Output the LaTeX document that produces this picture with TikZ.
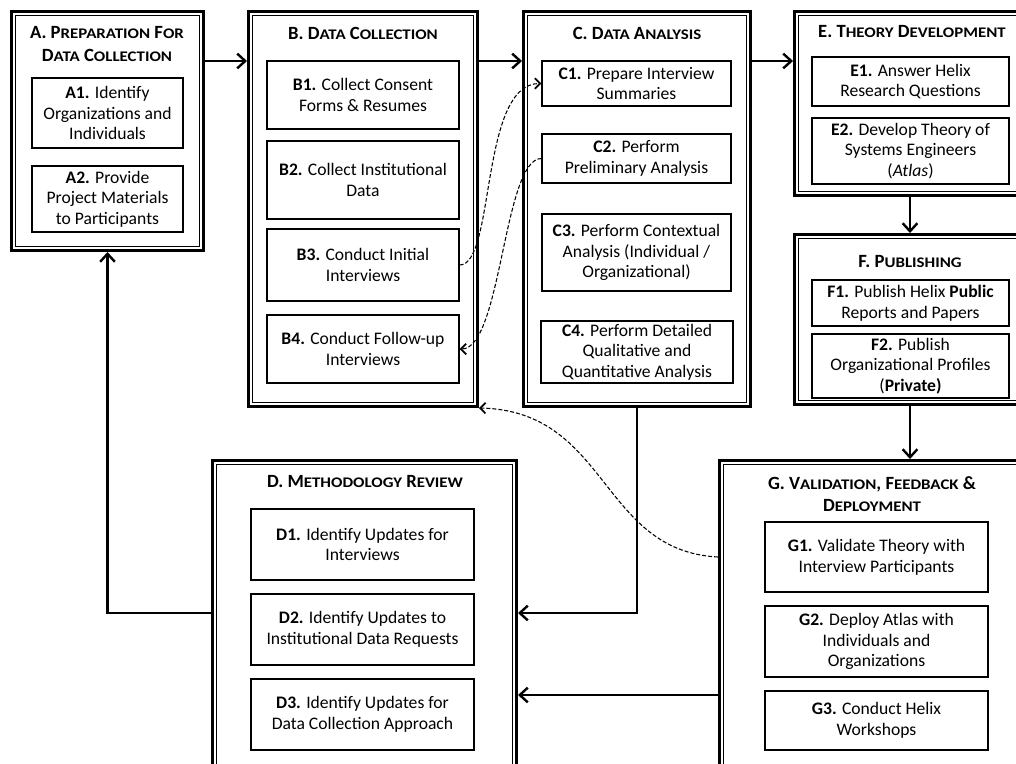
\documentclass[tikz,border=0pt]{standalone}
\usepackage{fontspec}
\setmainfont{Carlito}
\usetikzlibrary{positioning, fit, calc, arrows.meta}

% small capitals by hand: first letter, rest upper case, smaller and wider
\newcommand{\capsw}[2]{#1{\fontsize{11}{13}\selectfont\addfontfeatures{FakeStretch=1.15}\MakeUppercase{#2}}}

\begin{document}
\begin{tikzpicture}[x=0.75pt, y=-0.75pt,
        stage/.style={draw, line width=2.6pt, inner sep=0pt},
        task/.style={draw, line width=0.9pt, inner sep=0pt, align=center, font=\fontsize{13.2}{15.5}\selectfont},
        boxsize/.style 2 args={minimum width={(#1)*0.75pt}, minimum height={(#2)*0.75pt}},
        title/.style={align=center, font=\bfseries\fontsize{14}{17}\selectfont},
        flow/.style={line width=2pt, -{Straight Barb[length=6pt, width=11pt, line width=1.8pt]}},
        link/.style={line width=0.8pt, dash pattern=on 3pt off 1.5pt, -{Straight Barb[length=4pt, width=8pt, line width=1.3pt]}}]

        \useasboundingbox (0,0) rectangle (1016,763);
        \clip (0,0) rectangle (1016,763);

        \node[stage, fit={(11.75,11.75)(203.25,250.25)}] (A) {};
        \node[stage, fit={(248.75,11.75)(477.25,406.25)}] (B) {};
        \node[stage, fit={(523.75,11.75)(750.25,406.25)}] (C) {};
        \node[stage, fit={(212.75,460.75)(516.25,790)}] (D) {};
        \node[stage, fit={(794.75,11.75)(1040,195.25)}] (E) {};
        \node[stage, fit={(794.75,234.75)(1040,404.25)}] (F) {};
        \node[stage, fit={(719.75,460.75)(1040,790)}] (G) {};
        \foreach \s in {A,B,C,D,E,F,G}
            \draw[line width=0.7pt] ([shift={(5.5,5.5)}]\s.north west) rectangle ([shift={(-5.5,-5.5)}]\s.south east);

        \node[title] (Atitle) at (107,44) {A. \capsw{P}{reparation} \capsw{F}{or}\\\capsw{D}{ata} \capsw{C}{ollection}};
        \node[title] (Btitle) at (363,33) {B. \capsw{D}{ata} \capsw{C}{ollection}};
        \node[title] (Ctitle) at (637,33) {C. \capsw{D}{ata} \capsw{A}{nalysis}};
        \node[title] (Etitle) at (912,32) {E. \capsw{T}{heory} \capsw{D}{evelopment}};
        \node[title] (Ftitle) at (910,262) {F. \capsw{P}{ublishing}};
        \node[title] (Dtitle) at (365,482) {D. \capsw{M}{ethodology} \capsw{R}{eview}};
        \node[title] (Gtitle) at (872,494) {G. \capsw{V}{alidation}, \capsw{F}{eedback} \&\\\capsw{D}{eployment}};

        \node[task, boxsize={151}{70}] (A1) at (107.5,113) {\textbf{A1.} Identify\\Organizations and\\Individuals};
        \node[task, boxsize={151}{66}] (A2) at (107.5,199) {\textbf{A2.} Provide\\Project Materials\\to Participants};

        \node[task, boxsize={192}{68}] (B1) at (363,95) {\textbf{B1.} Collect Consent\\Forms \& Resumes};
        \node[task, boxsize={192}{78}] (B2) at (363,180) {\textbf{B2.} Collect Institutional\\Data};
        \node[task, boxsize={192}{72}] (B3) at (363,265) {\textbf{B3.} Conduct Initial\\Interviews};
        \node[task, boxsize={192}{68}] (B4) at (363,349) {\textbf{B4.} Conduct Follow-up\\Interviews};

        \node[task, boxsize={189}{45}] (C1) at (636.5,83.5) {\textbf{C1.} Prepare Interview\\Summaries};
        \node[task, boxsize={189}{49}] (C2) at (636.5,158.5) {\textbf{C2.} Perform\\Preliminary Analysis};
        \node[task, boxsize={189}{77}] (C3) at (636.5,252.5) {\textbf{C3.} Perform Contextual\\Analysis (Individual /\\Organizational)};
        \node[task, boxsize={192}{62}] (C4) at (637,352) {\textbf{C4.} Perform Detailed\\Qualitative and\\Quantitative Analysis};

        \node[task, boxsize={197}{49}] (E1) at (910.5,81.5) {\textbf{E1.} Answer Helix\\Research Questions};
        \node[task, boxsize={197}{66}] (E2) at (910.5,151) {\textbf{E2.} Develop Theory of\\Systems Engineers\\(\textit{Atlas})};

        \node[task, boxsize={197}{46}] (F1) at (910.5,303) {\textbf{F1.} Publish Helix \textbf{Public}\\Reports and Papers};
        \node[task, boxsize={197}{64}] (F2) at (910.5,366) {\textbf{F2.} Publish\\Organizational Profiles\\(\textbf{Private)}};

        \node[task, boxsize={223}{71}] (D1) at (362.5,544.5) {\textbf{D1.} Identify Updates for\\Interviews};
        \node[task, boxsize={223}{71}] (D2) at (362.5,629.5) {\textbf{D2.} Identify Updates to\\Institutional Data Requests};
        \node[task, boxsize={223}{71}] (D3) at (362.5,714.5) {\textbf{D3.} Identify Updates for\\Data Collection Approach};

        \node[task, boxsize={223}{70}] (G1) at (876.5,557) {\textbf{G1.} Validate Theory with\\Interview Participants};
        \node[task, boxsize={223}{71}] (G2) at (876.5,641.5) {\textbf{G2.} Deploy Atlas with\\Individuals and\\Organizations};
        \node[task, boxsize={223}{59}] (G3) at (876.5,720.5) {\textbf{G3.} Conduct Helix\\Workshops};

        \coordinate (toprow) at (0,61);
        \coordinate (rightcol) at (910,0);
        \coordinate (back) at (0,613);
        \coordinate (feedback) at (0,695);

        \draw[flow] (A.east |- toprow) -- (B.west |- toprow);
        \draw[flow] (B.east |- toprow) -- (C.west |- toprow);
        \draw[flow] (C.east |- toprow) -- (E.west |- toprow);
        \draw[flow] (E.south -| rightcol) -- (F.north -| rightcol);
        \draw[flow] (F.south -| rightcol) -- (G.north -| rightcol);
        \draw[flow] (C.south) |- (D.east |- back);
        \draw[flow] (G.west |- feedback) -- (D.east |- feedback);
        \draw[flow] (D.west |- back) -| (A.south);

        \draw[link] (B3.east) .. controls +(36,0) and +(-62,0) .. (C1.west);
        \draw[link] (C2.west) .. controls +(-38,0) and +(42,0) .. (B4.east);
        \draw[link] (G.west |- G1) .. controls +(-118,-6) and +(130,3) .. (B.south east);
\end{tikzpicture}
\end{document}
